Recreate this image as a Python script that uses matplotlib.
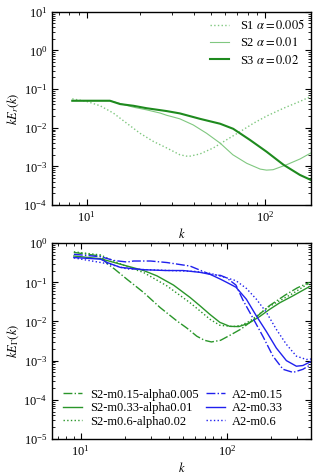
import matplotlib
matplotlib.use("Agg")
import matplotlib.pyplot as plt

plt.rcParams['font.family'] = ['Liberation Serif', 'DejaVu Serif']
plt.rcParams['mathtext.fontset'] = 'stix'
plt.rcParams['font.size'] = 9

# ---- top panel data ----
k_s1 = [8.3, 10, 11.9, 14.1, 16.8, 19.9, 23.7, 28.1, 33.3, 37.2, 43.2, 51.3, 61, 72.4, 86, 102, 127, 157, 180]
e_s1 = [0.056, 0.048, 0.037, 0.024, 0.013, 0.0072, 0.0044, 0.003, 0.002, 0.0018, 0.0021, 0.003, 0.0049, 0.0079, 0.013, 0.02, 0.032, 0.048, 0.064]
k_s2 = [8.3, 13.5, 18.3, 21.7, 25.8, 28.1, 30.5, 33.3, 39.6, 47, 56, 66, 79, 94, 102, 111, 132, 157, 180]
e_s2 = [0.05, 0.05, 0.034, 0.029, 0.024, 0.021, 0.019, 0.017, 0.0118, 0.0072, 0.004, 0.002, 0.0012, 0.00085, 0.0008, 0.00082, 0.0011, 0.00155, 0.0022]
k_s3 = [8.3, 13.5, 15.4, 18.3, 21.7, 28.1, 33.3, 43.2, 56, 66.3, 82, 102, 127, 157, 180]
e_s3 = [0.05, 0.05, 0.041, 0.037, 0.032, 0.027, 0.0235, 0.017, 0.0127, 0.0094, 0.0049, 0.0024, 0.0011, 0.0006, 0.00045]
top_labels = [r'S1 $\alpha=0.005$', r'S2 $\alpha=0.01$', r'S3 $\alpha=0.02$']

# ---- bottom panel data ----
k_g15 = [9.0, 13.7, 15.2, 17, 20.7, 26.9, 34.9, 45.4, 53, 62, 70, 78, 90, 105, 125, 150, 193, 250, 300, 364]
e_g15 = [0.58, 0.47, 0.3, 0.22, 0.12, 0.055, 0.0226, 0.0103, 0.0068, 0.0042, 0.0033, 0.003, 0.0033, 0.0045, 0.0065, 0.011, 0.025, 0.048, 0.072, 0.1]
k_g33 = [9.0, 13.7, 18.7, 26.9, 33.2, 43, 55.8, 65.3, 76.4, 89, 104, 120, 140, 167, 193, 228, 280, 364]
e_g33 = [0.47, 0.4, 0.29, 0.2, 0.146, 0.085, 0.041, 0.025, 0.015, 0.0095, 0.0075, 0.0074, 0.009, 0.0135, 0.02, 0.03, 0.045, 0.078]
k_g60 = [9.0, 13.7, 16, 20.7, 26.9, 38.8, 55.8, 65.3, 76.4, 89, 110, 125, 143, 167, 193, 228, 280, 364]
e_g60 = [0.6, 0.5, 0.38, 0.25, 0.178, 0.081, 0.03, 0.0185, 0.0113, 0.008, 0.0074, 0.008, 0.0103, 0.016, 0.024, 0.034, 0.052, 0.097]
k_b15 = [9.0, 13.7, 17, 20.7, 23, 30, 38.8, 55.8, 76.4, 90, 99, 114.6, 128, 150, 176, 205, 240, 281, 328, 372]
e_b15 = [0.52, 0.45, 0.36, 0.33, 0.35, 0.35, 0.32, 0.26, 0.16, 0.15, 0.13, 0.085, 0.035, 0.012, 0.004, 0.0013, 0.0006, 0.0005, 0.0006, 0.0008]
k_b33 = [9.0, 13.7, 15.2, 18.7, 26.9, 38, 50, 65, 76.4, 90, 99, 114.6, 135, 158, 185, 216, 253, 296, 328, 372]
e_b33 = [0.43, 0.39, 0.32, 0.24, 0.21, 0.2, 0.2, 0.18, 0.16, 0.12, 0.1, 0.075, 0.037, 0.0138, 0.0055, 0.0021, 0.001, 0.00072, 0.00075, 0.00095]
k_b60 = [9.0, 15.2, 20.7, 28.4, 40.8, 60, 76.4, 99, 114.6, 135, 158, 185, 216, 253, 296, 346, 372]
e_b60 = [0.42, 0.3, 0.22, 0.21, 0.2, 0.19, 0.17, 0.13, 0.11, 0.07, 0.037, 0.017, 0.0063, 0.0026, 0.0013, 0.00107, 0.0011]
bottom_labels = ['S2-m0.15-alpha0.005', 'S2-m0.33-alpha0.01', 'S2-m0.6-alpha0.02',
                 'A2-m0.15', 'A2-m0.33', 'A2-m0.6']

green = '#2a962a'
dgreen = '#1e8a1e'
lgreen = '#80c880'
blue = '#2020ee'

fig = plt.figure(figsize=(3.16, 4.74), dpi=100)
ax1 = fig.add_axes([0.165, 0.5675, 0.819, 0.4075])
ax2 = fig.add_axes([0.165, 0.074, 0.819, 0.413])

ax1.plot(k_s1, e_s1, ls=':', color=lgreen, lw=1.0, label=top_labels[0])
ax1.plot(k_s2, e_s2, ls='-', color=lgreen, lw=0.8, label=top_labels[1])
ax1.plot(k_s3, e_s3, ls='-', color=dgreen, lw=1.5, label=top_labels[2])
ax1.set_xlim(6.4, 181)
ax1.set_ylim(1e-4, 10)
ax1.legend(loc='upper right', frameon=False, fontsize=9, handlelength=1.5,
           handletextpad=0.9, labelspacing=0.35, borderaxespad=0.1)

ax2.plot(k_g15, e_g15, ls='-.', color=green, lw=1.0, label=bottom_labels[0])
ax2.plot(k_g33, e_g33, ls='-', color=green, lw=1.0, label=bottom_labels[1])
ax2.plot(k_g60, e_g60, ls=':', color=green, lw=1.0, label=bottom_labels[2])
ax2.plot(k_b15, e_b15, ls='-.', color=blue, lw=1.0, label=bottom_labels[3])
ax2.plot(k_b33, e_b33, ls='-', color=blue, lw=1.0, label=bottom_labels[4])
ax2.plot(k_b60, e_b60, ls=':', color=blue, lw=1.0, label=bottom_labels[5])
ax2.set_xlim(6.4, 372)
ax2.set_ylim(1e-5, 1)
ax2.legend(loc='lower left', ncol=2, frameon=False, fontsize=9, handlelength=1.5,
           handletextpad=0.6, labelspacing=0.12, columnspacing=0.6,
           bbox_to_anchor=(0.0, 0.0))

for ax, lab in ((ax1, r'$kE_r(k)$'), (ax2, r'$kE_\Gamma(k)$')):
    ax.set_xscale('log')
    ax.set_yscale('log')
    ax.set_xlabel(r'$k$', labelpad=2)
    ax.set_ylabel(lab, labelpad=2)
    ax.tick_params(which='both', direction='in', top=True, right=True, labelsize=9)
    ax.tick_params(which='major', length=4)
    ax.tick_params(which='minor', length=2)
    for s in ax.spines.values():
        s.set_linewidth(1.0)

fig.savefig('out.png', dpi=100)
